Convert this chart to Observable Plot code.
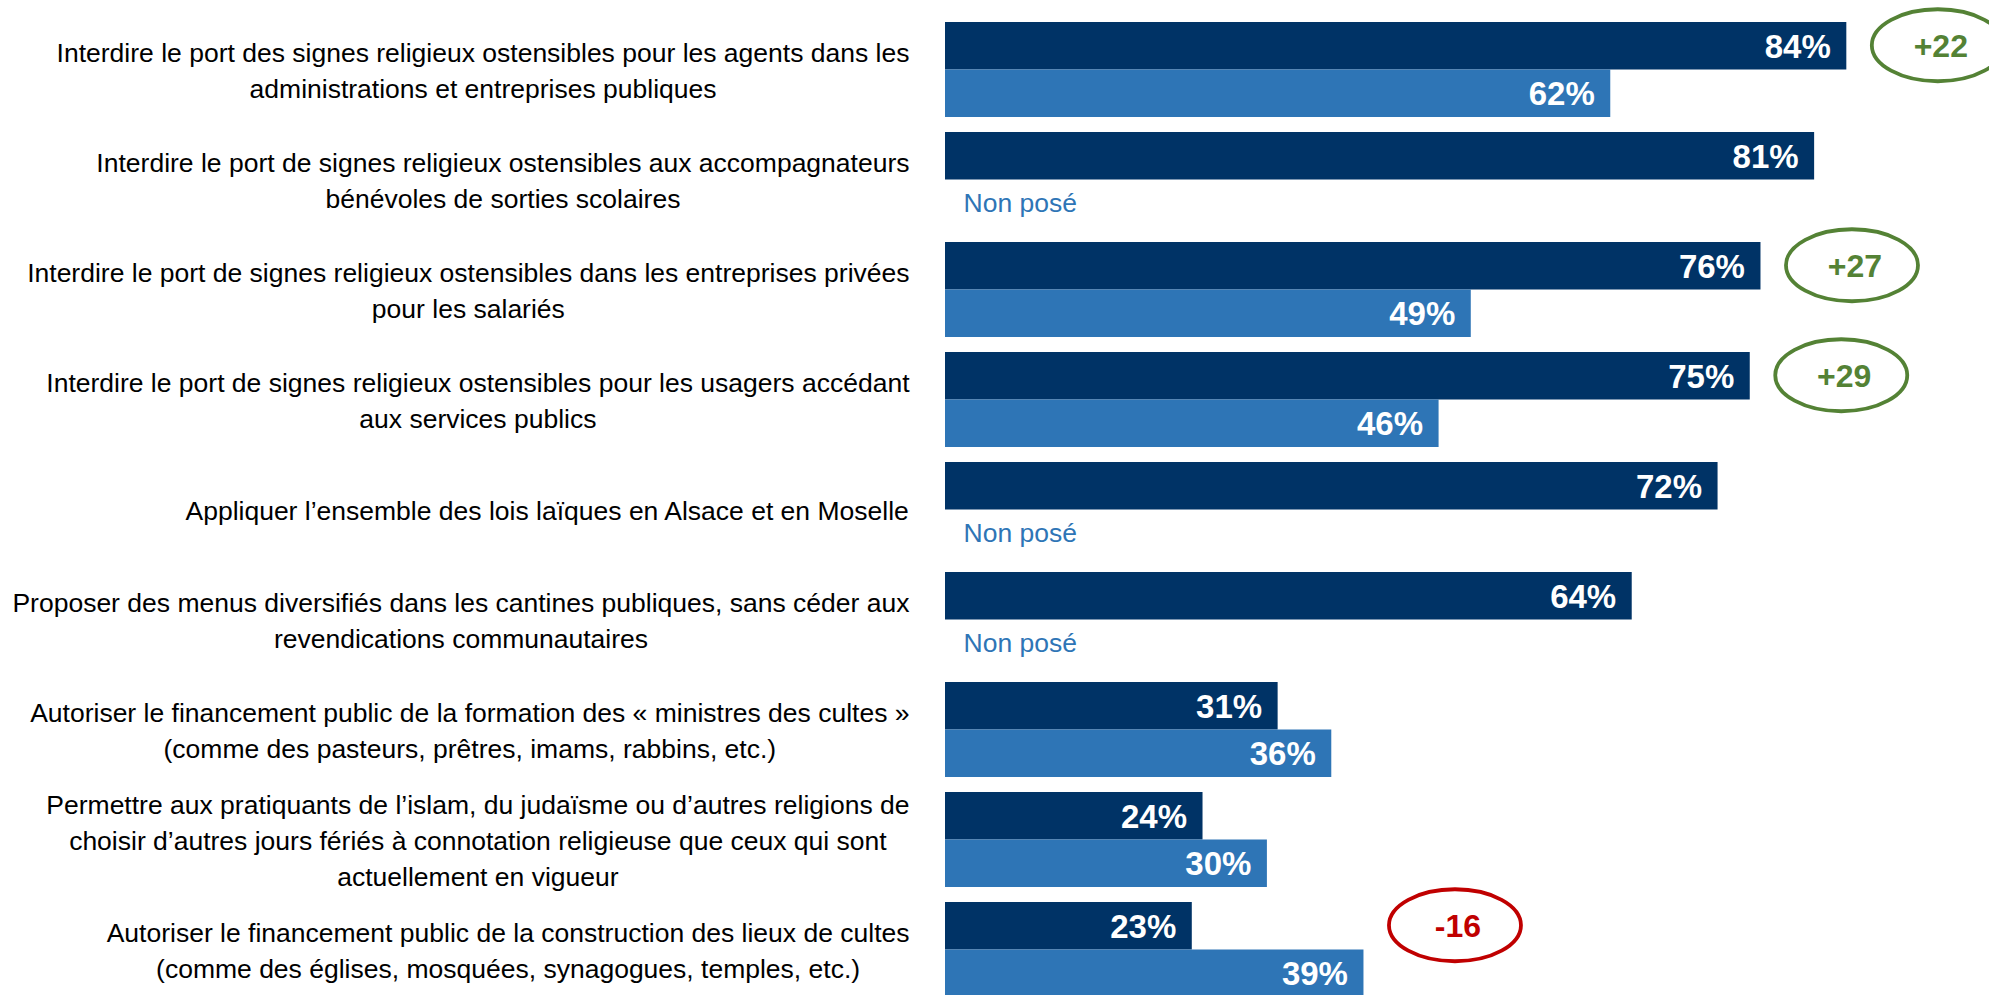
<!DOCTYPE html>
<html>
<head>
<meta charset="utf-8">
<script src="https://cdn.jsdelivr.net/npm/d3@7"></script>
<script src="https://cdn.jsdelivr.net/npm/@observablehq/plot@0.6"></script>
<style>
  html, body { margin: 0; padding: 0; background: #ffffff; }
  #chart svg { display: block; max-width: none; }
</style>
</head>
<body>
<div id="chart"></div>
<script>
// ---------- DATA ----------
const questions = [
  "Interdire le port des signes religieux ostensibles pour les agents dans les\nadministrations et entreprises publiques",
  "Interdire le port de signes religieux ostensibles aux accompagnateurs\nbénévoles de sorties scolaires",
  "Interdire le port de signes religieux ostensibles dans les entreprises privées\npour les salariés",
  "Interdire le port de signes religieux ostensibles pour les usagers accédant\naux services publics",
  "Appliquer l’ensemble des lois laïques en Alsace et en Moselle",
  "Proposer des menus diversifiés dans les cantines publiques, sans céder aux\nrevendications communautaires",
  "Autoriser le financement public de la formation des « ministres des cultes »\n(comme des pasteurs, prêtres, imams, rabbins, etc.)",
  "Permettre aux pratiquants de l’islam, du judaïsme ou d’autres religions de\nchoisir d’autres jours fériés à connotation religieuse que ceux qui sont\nactuellement en vigueur",
  "Autoriser le financement public de la construction des lieux de cultes\n(comme des églises, mosquées, synagogues, temples, etc.)"
];
const valuesCurrent  = [84, 81, 76, 75, 72, 64, 31, 24, 23];
const valuesPrevious = [62, null, 49, 46, null, null, 36, 30, 39];
const notAskedLabel = "Non posé";
const highlightThreshold = 10; // differences shown in a circle

// ---------- STYLE / LAYOUT ----------
const W = 1989, H = 995;
const FONT = "'Liberation Sans', Arial, sans-serif";
const darkBlue = "#003366", lightBlue = "#2E75B6";
const green = "#548235", red = "#C00000";
const TOP = 22, STEP = 110, GAP = 15;
const padInner = GAP / STEP;
const yRange = [TOP, TOP + questions.length * STEP - GAP];
const bw = STEP - GAP;           // band width for one question
const labelSize = 26.5;
const labelRight = 909;          // right edge of question text block
const xRange = [945, 945 + 1073];

const rows = questions.map((q, i) => ({
  q, cur: valuesCurrent[i], prev: valuesPrevious[i],
  diff: valuesPrevious[i] == null ? null : valuesCurrent[i] - valuesPrevious[i]
}));
const withPrev = rows.filter(d => d.prev != null);
const noPrev = rows.filter(d => d.prev == null);
const highlights = withPrev.filter(d => Math.abs(d.diff) >= highlightThreshold);

// text measurement for centred, right-aligned label blocks
const ctx = document.createElement("canvas").getContext("2d");
ctx.font = `${labelSize}px ${FONT}`;
const blockWidth = s => d3.max(s.split("\n"), l => ctx.measureText(l).width);

// ellipse symbol
const RX = 66, RY = 36, K = 0.5523;
const ellipse = {
  draw(c) {
    c.moveTo(RX, 0);
    c.bezierCurveTo(RX, K * RY, K * RX, RY, 0, RY);
    c.bezierCurveTo(-K * RX, RY, -RX, K * RY, -RX, 0);
    c.bezierCurveTo(-RX, -K * RY, -K * RX, -RY, 0, -RY);
    c.bezierCurveTo(K * RX, -RY, RX, -K * RY, RX, 0);
    c.closePath();
  }
};
const circleDx = 91;

const labelMarks = rows.map(d =>
  Plot.text([d], {
    x: () => 0, y: "q", text: "q",
    dx: (labelRight - xRange[0]) - blockWidth(d.q) / 2, dy: -2,
    textAnchor: "middle", lineAnchor: "middle",
    lineHeight: 36 / labelSize,
    fontSize: labelSize, fill: "#000000"
  })
);

const chart = Plot.plot({
  width: W, height: H,
  marginTop: 0, marginBottom: 0, marginLeft: 0, marginRight: 0,
  style: { fontFamily: FONT, background: "#ffffff", overflow: "visible" },
  x: { domain: [0, 100], range: xRange, axis: null },
  y: { type: "band", domain: questions, range: yRange, paddingInner: padInner, paddingOuter: 0, axis: null },
  marks: [
    Plot.barX(rows, { x: "cur", y: "q", fill: darkBlue, insetBottom: bw / 2 }),
    Plot.barX(withPrev, { x: "prev", y: "q", fill: lightBlue, insetTop: bw / 2 }),
    Plot.text(rows, {
      x: "cur", y: "q", text: d => d.cur + "%", dx: -16, dy: -bw / 4 + 1,
      textAnchor: "end", fill: "#ffffff", fontWeight: "bold", fontSize: 33
    }),
    Plot.text(withPrev, {
      x: "prev", y: "q", text: d => d.prev + "%", dx: -16, dy: bw / 4 + 1,
      textAnchor: "end", fill: "#ffffff", fontWeight: "bold", fontSize: 33
    }),
    Plot.text(noPrev, {
      x: () => 0, y: "q", text: () => notAskedLabel, dx: 18, dy: bw / 4,
      textAnchor: "start", fill: lightBlue, fontSize: labelSize
    }),
    ...labelMarks,
    Plot.dot(highlights.filter(d => d.diff > 0), {
      x: d => Math.max(d.cur, d.prev), y: "q", dx: circleDx, dy: -bw / 4 - 1,
      symbol: ellipse, stroke: green, strokeWidth: 3.8, fill: "none", r: 10
    }),
    Plot.dot(highlights.filter(d => d.diff < 0), {
      x: d => Math.max(d.cur, d.prev), y: "q", dx: circleDx, dy: -bw / 4 - 1,
      symbol: ellipse, stroke: red, strokeWidth: 3.8, fill: "none", r: 10
    }),
    Plot.text(highlights, {
      x: d => Math.max(d.cur, d.prev), y: "q", dx: circleDx + 3, dy: -bw / 4,
      text: d => (d.diff > 0 ? "+" : "-") + Math.abs(d.diff),
      fill: d => d.diff > 0 ? green : red,
      fontWeight: "bold", fontSize: 32, textAnchor: "middle"
    })
  ]
});
document.getElementById("chart").appendChild(chart);
</script>
</body>
</html>
